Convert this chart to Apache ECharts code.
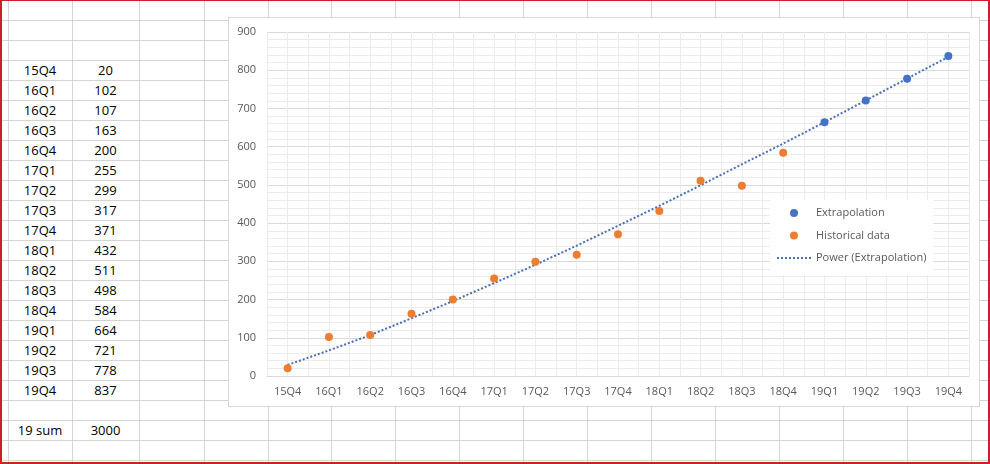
<!DOCTYPE html>
<html>
<head>
<meta charset="utf-8">
<script src="https://cdn.jsdelivr.net/npm/echarts@6/dist/echarts.min.js"></script>
<style>
  html, body { margin: 0; padding: 0; background: #fff; }
  #sheet { position: relative; width: 990px; height: 464px; overflow: hidden; background: #fff;
           font-family: 'Open Sans', sans-serif; font-size: 13px; color: #000; }
  .vl { position: absolute; top: 0; width: 1px; height: 462px; background: #d4d4d4; }
  .hl { position: absolute; left: 0; height: 1px; width: 988px; background: #d4d4d4; }
  .cell { position: absolute; height: 20px; line-height: 21px; text-align: center; white-space: nowrap; }
  .frame { position: absolute; background: #cc1f2b; }
  #chartBox { position: absolute; left: 228px; top: 17px; width: 752px; height: 390px;
              box-sizing: border-box; border: 1px solid #d9d9d9; background: #fff; }
  #chart { width: 750px; height: 388px; }
</style>
</head>
<body>
<div id="sheet">
  <div id="chartBox"><div id="chart"></div></div>
</div>
<script>
// quarters on the x axis
const categories = ['15Q4', '16Q1', '16Q2', '16Q3', '16Q4', '17Q1', '17Q2', '17Q3', '17Q4',
  '18Q1', '18Q2', '18Q3', '18Q4', '19Q1', '19Q2', '19Q3', '19Q4'];
// orange points
const historical = [20, 102, 107, 163, 200, 255, 299, 317, 371, 432, 511, 498, 584];
// blue points (19Q1..19Q4)
const extrapolation = [664, 721, 778, 837];
// dotted trend line at each quarter
const trend = [29, 67, 107, 151, 196, 243, 291, 341, 393, 445, 499, 554, 608, 664, 721, 778, 835];
const yTicks = [0, 100, 200, 300, 400, 500, 600, 700, 800, 900];

// ---- spreadsheet background ----
const sheet = document.getElementById('sheet');
const colX = [8, 72, 139, 204, 268, 331, 395, 459, 523, 587, 651, 715, 779, 843, 907, 971];
colX.forEach(x => {
  const d = document.createElement('div');
  d.className = 'vl';
  d.style.left = x + 'px';
  sheet.insertBefore(d, sheet.firstChild);
});
for (let k = 1; k <= 23; k++) {
  const d = document.createElement('div');
  d.className = 'hl';
  d.style.top = (20 * k) + 'px';
  if (k == 23) d.style.background = '#cfe3c5';
  sheet.insertBefore(d, sheet.firstChild);
}

function cell(row, col, text) {
  const d = document.createElement('div');
  d.className = 'cell';
  d.style.top = (20 * row) + 'px';
  d.style.left = colX[col] + 'px';
  d.style.width = (colX[col + 1] - colX[col]) + 'px';
  d.textContent = text;
  sheet.insertBefore(d, document.getElementById('chartBox'));
}
const allValues = historical.concat(extrapolation);
categories.forEach((c, i) => {
  cell(3 + i, 0, c);
  cell(3 + i, 1, allValues[i]);
});
cell(21, 0, '19 sum');
cell(21, 1, extrapolation.reduce((a, b) => a + b, 0));

[[0, 0, 2, 464], [0, 0, 990, 1], [988, 0, 2, 464], [0, 462, 990, 2]].forEach(r => {
  const d = document.createElement('div');
  d.className = 'frame';
  d.style.left = r[0] + 'px';
  d.style.top = r[1] + 'px';
  d.style.width = r[2] + 'px';
  d.style.height = r[3] + 'px';
  sheet.appendChild(d);
});

// ---- chart ----
const myChart = echarts.init(document.getElementById('chart'));
const labelColor = '#595959';
const font = 'Open Sans';

const option = {
  animation: false,
  textStyle: { fontFamily: font },
  grid: { left: 38, top: 14, width: 702, height: 344 },
  legend: {
    orient: 'vertical',
    left: 541,
    top: 182,
    backgroundColor: '#fff',
    padding: [6, 7, 10, 6],
    itemWidth: 34,
    itemHeight: 8,
    itemGap: 8.5,
    textStyle: { color: labelColor, fontSize: 11, fontFamily: font, lineHeight: 14 },
    data: [
      'Extrapolation',
      'Historical data',
      { name: 'Power (Extrapolation)', itemStyle: { opacity: 0 } }
    ]
  },
  xAxis: [
    {
      type: 'category',
      data: categories,
      boundaryGap: true,
      axisLine: { lineStyle: { color: '#d9d9d9' } },
      axisTick: { show: false },
      splitLine: { show: false },
      axisLabel: { color: labelColor, fontSize: 11, margin: 10 }
    },
    {
      type: 'value',
      min: 0,
      max: categories.length * 2,
      interval: 1,
      position: 'top',
      axisLine: { show: false },
      axisTick: { show: false },
      axisLabel: { show: false },
      splitLine: { show: true, lineStyle: { color: '#ebebeb' } }
    }
  ],
  yAxis: {
    type: 'value',
    min: yTicks[0],
    max: yTicks[yTicks.length - 1],
    interval: 100,
    axisLine: { show: false },
    axisTick: { show: false },
    axisLabel: { color: labelColor, fontSize: 11, margin: 11 },
    splitLine: { lineStyle: { color: '#d9d9d9' } },
    minorTick: { show: false, splitNumber: 5 },
    minorSplitLine: { show: true, lineStyle: { color: '#ebebeb' } }
  },
  series: [
    {
      name: 'Power (Extrapolation)',
      type: 'line',
      data: trend,
      symbol: 'none',
      z: 2,
      lineStyle: { color: '#4a6fb5', width: 2, type: [2, 2] },
      itemStyle: { color: '#4a6fb5' }
    },
    {
      name: 'Extrapolation',
      type: 'scatter',
      symbolSize: 8,
      z: 3,
      itemStyle: { color: '#4472c4', opacity: 1 },
      data: extrapolation.map((v, i) => [categories[historical.length + i], v])
    },
    {
      name: 'Historical data',
      type: 'scatter',
      symbolSize: 8,
      z: 3,
      itemStyle: { color: '#ed7d31', opacity: 1 },
      data: historical.map((v, i) => [categories[i], v])
    }
  ]
};
myChart.setOption(option);
</script>
</body>
</html>
